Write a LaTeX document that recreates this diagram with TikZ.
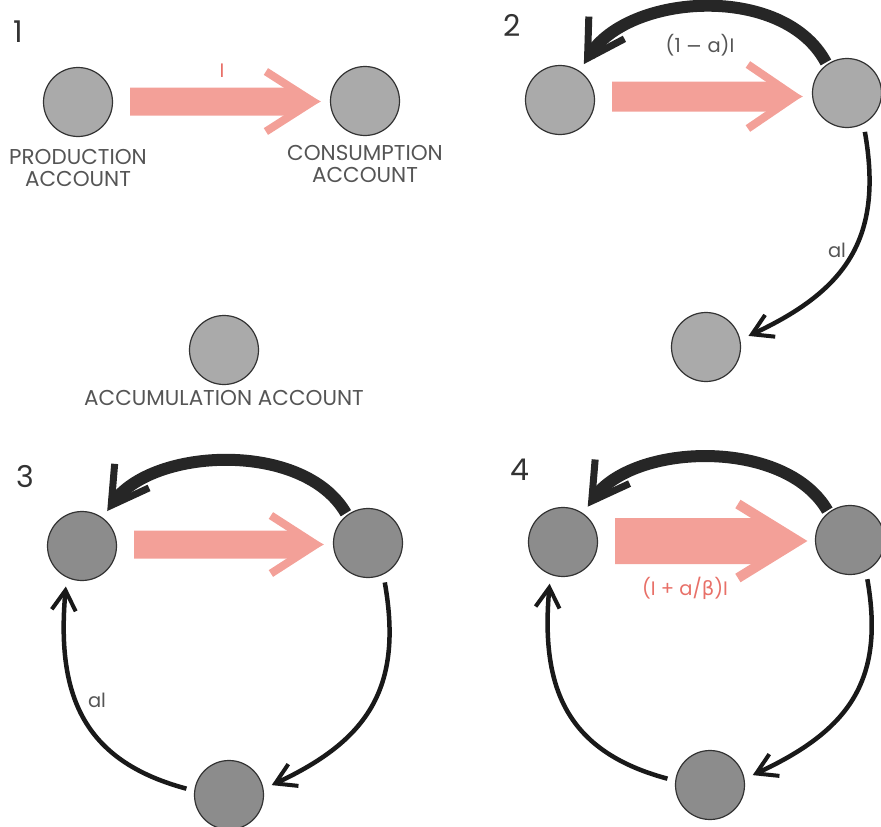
\documentclass[tikz,border=0pt]{standalone}
\usepackage{fontspec}
\setmainfont{Poppins}
\newfontfamily\greekfont{DejaVu Sans}
\usetikzlibrary{arrows.meta,calc,positioning}
\definecolor{pinkflow}{RGB}{243,160,152}
\definecolor{redtext}{RGB}{232,112,104}
\definecolor{captiongray}{RGB}{85,85,85}
\definecolor{discfill}{RGB}{170,170,170}
\definecolor{discdark}{RGB}{140,140,140}
\tikzstyle{account}=[circle, draw=black!80, line width=1.2pt, fill=discfill,
  minimum size=69pt, inner sep=0pt]
\tikzstyle{darkaccount}=[account, fill=discdark]
\tikzstyle{caption}=[text=captiongray, align=center, inner sep=0pt,
  font=\fontsize{21.5}{22.5}\selectfont]
\tikzstyle{panelno}=[text=black!80, font=\fontsize{30}{30}\selectfont]
\tikzstyle{flowlabel}=[text=captiongray, font=\fontsize{19.5}{22}\selectfont]
\tikzstyle{redlabel}=[flowlabel, text=redtext]
\tikzstyle{shaft}=[fill=pinkflow]
\tikzstyle{barb}=[draw=pinkflow, miter limit=10]
\tikzstyle{mainarc}=[draw=black!85, line width=12pt,
  -{Straight Barb[length=36pt,width=42pt,line width=7pt]},
  shorten >=8pt, shorten <=2pt]
\tikzstyle{sidearc}=[draw=black!90, line width=4.5pt,
  -{Straight Barb[length=20pt,width=24pt,line width=4pt]},
  shorten >=9pt, shorten <=8pt]
\newcommand{\acct}[1]{node (a#1) [account] {}}
\newcommand{\dacct}[1]{node (a#1) [darkaccount] {}}
\newcommand{\fatflow}[6][8pt]{%
  % Shaft start and tip, half way between the two discs in height
  \path let \p1=(#2.east), \p2=(#3.west) in
    (\x1+17,{(\y1+\y2)/2}) coordinate (fs)
    (\x2-9,{(\y1+\y2)/2}) coordinate (ft);
  % Tapered shaft
  \fill[shaft] ($(fs)+(0,#4)$) -- ($(ft)+(-2*#4,#4)$) -- (ft)
    -- ($(ft)+(-2*#4,-#4)$) -- ($(fs)+(0,-#4)$) -- cycle;
  % Open head
  \draw[barb, line width=#1] ($(ft)+(-#5,#6)$) -- ($(ft)+(-8,0)$)
    -- ($(ft)+(-#5,-#6)$);}

\begin{document}
\begin{tikzpicture}[x=1pt, y=1pt]
\useasboundingbox (0,0) rectangle (881,-827);
% Draw diagram elements
\path (78,-102)  \acct{11};
\path (365,-101) \acct{12};
\path (224,-350) \acct{13};

\path (560,-100) \acct{21};
\path (847,-93)  \acct{22};
\path (706,-347) \acct{23};

\path (82,-546)  \dacct{31};
\path (368,-543) \dacct{32};
\path (229,-795) \dacct{33};

\path (563,-542) \dacct{41};
\path (850,-540) \dacct{42};
\path (710,-785) \dacct{43};

% Captions and panel numbers
\path (a11.south) +(0,-12) node (c11) [caption, below] {PRODUCTION\\ACCOUNT};
\path (a12.south) +(0,-9) node (c12) [caption, below] {CONSUMPTION\\ACCOUNT};
\path (a13.south) +(0,-5) node (c13) [caption, below] {ACCUMULATION ACCOUNT};

\node (n1) [panelno] at (18,-32) {1};
\node (n2) [panelno] at (512,-25) {2};
\node (n3) [panelno] at (25,-477) {3};
\node (n4) [panelno] at (520,-470) {4};

% Draw arrows between elements
\fatflow{a11}{a12}{14}{55}{30}
\fatflow{a21}{a22}{15}{55}{32}
\fatflow{a31}{a32}{14}{53}{29}
\fatflow[10pt]{a41}{a42}{23}{68}{37}

\draw[mainarc] (a22.125) to[out=118, in=58, looseness=0.95] (a21.56);
\draw[sidearc] (a22.-62) to[out=-80, in=25, looseness=1.2] (a23.12);

\draw[mainarc] (a32.127) to[out=120, in=55, looseness=0.9] (a31.54);
\draw[sidearc] (a32.-64) to[out=-80, in=25, looseness=1.2] (a33.10);
\draw[sidearc] (a33.173) to[out=165, in=-95, looseness=1.2] (a31.-116);

\draw[mainarc] (a42.128) to[out=120, in=55, looseness=0.9] (a41.55);
\draw[sidearc] (a42.-63) to[out=-80, in=25, looseness=1.2] (a43.10);
\draw[sidearc] (a43.173) to[out=165, in=-95, looseness=1.2] (a41.-111);

% Flow labels
\node (l1) [redlabel] at (222,-71) {I};
\node (l2) [flowlabel] at (700,-45) {(1 {\greekfont −} a)I};
\node (l3) [flowlabel] at (837,-250) {al};
\node (l4) [flowlabel] at (97,-700) {al};
\node (l5) [redlabel] at (685,-588) {(I + a/{\greekfont β})I};
\end{tikzpicture}
\end{document}
